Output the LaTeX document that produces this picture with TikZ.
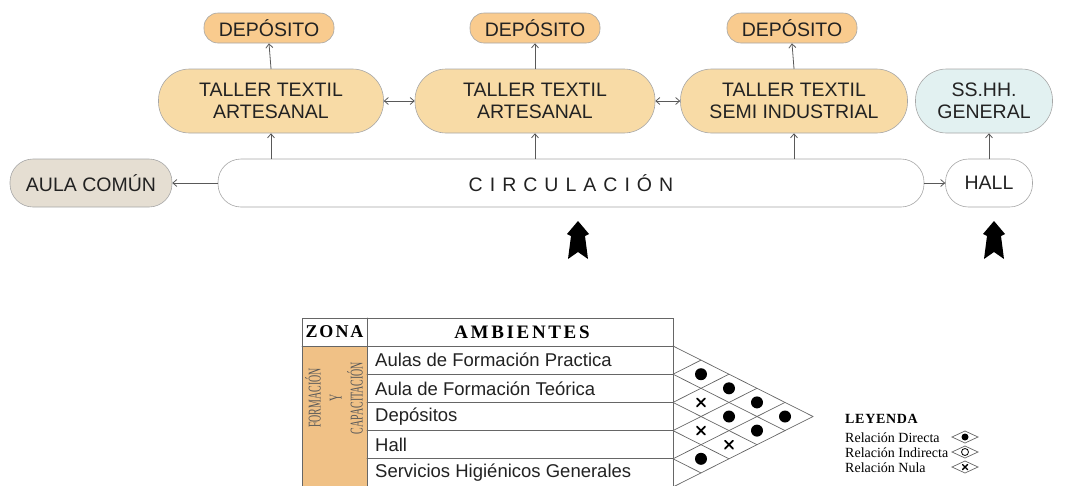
\documentclass[tikz,border=0pt]{standalone}
\usepackage{fontspec}
\setmainfont{Liberation Serif}
\setsansfont{Liberation Sans}
\newfontfamily\zonafont[FakeStretch=0.55]{Liberation Serif}
\usetikzlibrary{arrows.meta}
\definecolor{deposito}{HTML}{F9CB8E}
\definecolor{taller}{HTML}{F8DBA6}
\definecolor{aula}{HTML}{E5DED2}
\definecolor{sshh}{HTML}{E2F1F1}
\definecolor{zona}{HTML}{F0C186}
\definecolor{texto}{HTML}{222222}

\begin{document}
\begin{tikzpicture}[x=1pt,y=-1pt,>={Straight Barb[length=4pt,width=7pt]},line cap=round,
  caja/.style={draw=black!35,line width=0.6pt,text=texto,align=center,inner sep=0pt,
    font=\sffamily\fontsize{19.5}{22}\selectfont},
  enlace/.style={draw=black!65,line width=0.8pt},
  tabla/.style={draw=black!60,line width=0.7pt},
  entrada/.pic={\fill[black] (0,0) -- (11,13) -- (7,15) -- (10,38) -- (0,31) -- (-10,38) -- (-7,15) -- (-11,13) -- cycle;}]
\useasboundingbox (0,0) rectangle (1066,485);
% diagrama de relaciones
\node[caja,fill=aula,minimum width=162pt,minimum height=48pt,rounded corners=23pt] (aula) at (91,183) {AULA COMÚN};
\node[caja,fill=white,minimum width=706pt,minimum height=48pt,rounded corners=23pt] (circ) at (571,183) {\addfontfeature{LetterSpace=36}CIRCULACIÓN};
\node[caja,fill=white,minimum width=87pt,minimum height=48pt,rounded corners=23pt] (hall) at (989,183) {HALL};
\node[caja,fill=taller,minimum width=225pt,minimum height=64pt,rounded corners=31pt] (t1) at (271,101) {TALLER TEXTIL\\ARTESANAL};
\node[caja,fill=taller,minimum width=240pt,minimum height=64pt,rounded corners=31pt] (t2) at (535,101) {TALLER TEXTIL\\ARTESANAL};
\node[caja,fill=taller,minimum width=227pt,minimum height=64pt,rounded corners=31pt] (t3) at (794,101) {TALLER TEXTIL\\SEMI INDUSTRIAL};
\node[caja,fill=sshh,minimum width=137pt,minimum height=64pt,rounded corners=31pt] (ss) at (984,101) {SS.HH.\\GENERAL};
\node[caja,fill=deposito,minimum width=130pt,minimum height=30pt,rounded corners=14pt] (d1) at (269,28) {DEPÓSITO};
\node[caja,fill=deposito,minimum width=130pt,minimum height=30pt,rounded corners=14pt] (d2) at (535,28) {DEPÓSITO};
\node[caja,fill=deposito,minimum width=130pt,minimum height=30pt,rounded corners=14pt] (d3) at (792,28) {DEPÓSITO};
\draw[enlace,->] (circ.west) -- (aula.east);
\draw[enlace,->] (circ.east) -- (hall.west);
\draw[enlace,<->] (t1.east) -- (t2.west);
\draw[enlace,<->] (t2.east) -- (t3.west);
\draw[enlace,->] (t1.south |- circ.north) -- (t1.south);
\draw[enlace,->] (t2.south |- circ.north) -- (t2.south);
\draw[enlace,->] (t3.south |- circ.north) -- (t3.south);
\draw[enlace,->] (hall.north) -- (hall.north |- ss.south);
\draw[enlace,->] (t1.north) -- (d1.south);
\draw[enlace,->] (t2.north) -- (d2.south);
\draw[enlace,->] (t3.north) -- (d3.south);
\pic at (578,221) {entrada};
\pic at (994,221) {entrada};
% tabla de ambientes
\fill[zona] (302,346) rectangle (367,492);
\draw[tabla] (302,318) rectangle (673,492);
\draw[tabla] (367,318) -- (367,492);
\draw[tabla] (302,346) -- (673,346);
\foreach \k in {1,...,4} \draw[tabla] (367,{346+28.2*\k}) -- (673,{346+28.2*\k});
\node[font=\bfseries\fontsize{18}{20}\selectfont] (zonah) at (334.5,332) {\addfontfeature{LetterSpace=11}ZONA};
\node[font=\bfseries\fontsize{19}{20}\selectfont] (amb) at (522,332) {\addfontfeature{LetterSpace=14}AMBIENTES};
\node[rotate=90,align=center,text=black!65,font=\zonafont\fontsize{18}{21}\selectfont] (zon) at (334,398) {FORMACIÓN\\Y\\CAPACITACIÓN};
\foreach \t [count=\i] in {Aulas de Formación Practica,Aula de Formación Teórica,Depósitos,Hall,Servicios Higiénicos Generales}
  \node[anchor=west,inner sep=0pt,text=texto,font=\sffamily\fontsize{18.5}{20}\selectfont] (fila\i) at (375,{346+28.2*(\i-0.5)}) {\t};
% matriz de relaciones
\foreach \k in {0,...,4} \draw[tabla] (673,{346+28.2*\k}) -- ++({28*(5-\k)},{14.1*(5-\k)});
\foreach \k in {1,...,5} \draw[tabla] (673,{346+28.2*\k}) -- ++({28*\k},{-14.1*\k});
\foreach \i/\j in {1/2,1/3,1/4,1/5,2/4,2/5,4/5}
  \fill ({673+28*(\j-\i)},{346+14.1*(\i+\j-1)}) circle (6pt);
\foreach \i/\j in {2/3,3/4,3/5}
  \draw[line width=1.8pt] ({673+28*(\j-\i)-4},{346+14.1*(\i+\j-1)-4}) -- ++(8,8) ++(-8,0) -- ++(8,-8);
% leyenda
\node[anchor=base west,inner sep=0pt,font=\bfseries\fontsize{14}{16}\selectfont] (ley) at (845,423) {\addfontfeature{LetterSpace=5}LEYENDA};
\node[anchor=base west,inner sep=0pt,font=\fontsize{14}{16}\selectfont] (rd) at (845,442) {Relación Directa};
\node[anchor=base west,inner sep=0pt,font=\fontsize{14}{16}\selectfont] (ri) at (845,457) {Relación Indirecta};
\node[anchor=base west,inner sep=0pt,font=\fontsize{14}{16}\selectfont] (rn) at (845,472) {Relación Nula};
\foreach \y in {437,452,467} \draw[tabla] (952,\y) -- (965,{\y-6}) -- (978,\y) -- (965,{\y+6}) -- cycle;
\fill (965,437) circle (3.5pt);
\draw[line width=0.8pt] (965,452) circle (3.5pt);
\draw[line width=1.4pt] (962.5,464.5) -- ++(5,5) ++(-5,0) -- ++(5,-5);
\end{tikzpicture}
\end{document}
